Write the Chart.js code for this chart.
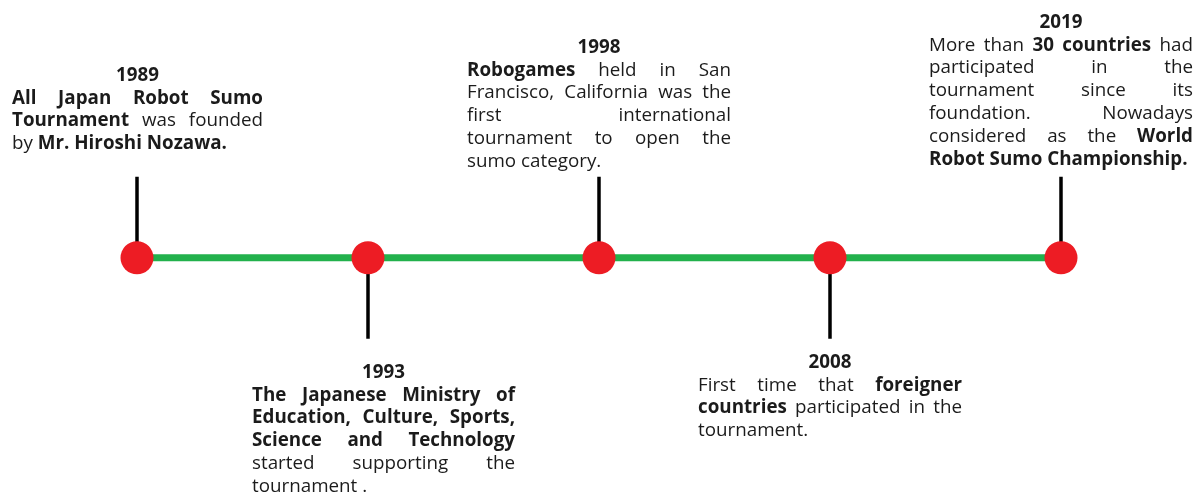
<!DOCTYPE html>
<html>
<head>
<meta charset="utf-8">
<script src="https://cdn.jsdelivr.net/npm/chart.js@4.4.1/dist/chart.umd.min.js"></script>
<style>
  html, body { margin: 0; padding: 0; background: #fff; }
  #wrap { width: 1201px; height: 493px; position: relative; }
</style>
</head>
<body>
<div id="wrap"><canvas id="timeline"></canvas></div>
<script>
// timeline data
const years = ['1989', '1993', '1998', '2008', '2019'];
const positions = [0, 1, 2, 3, 4];

// description lines, **...** marks bold words
const descriptions = [
    [
        '**All Japan Robot Sumo**',
        '**Tournament** was founded',
        'by **Mr. Hiroshi Nozawa.**'
    ],
    [
        '**The Japanese Ministry of**',
        '**Education, Culture, Sports,**',
        '**Science and Technology**',
        'started supporting the',
        'tournament .'
    ],
    [
        '**Robogames** held in San',
        'Francisco, California was the',
        'first international',
        'tournament to open the',
        'sumo category.'
    ],
    [
        'First time that **foreigner**',
        '**countries** participated in the',
        'tournament.'
    ],
    [
        'More than **30 countries** had',
        'participated in the',
        'tournament since its',
        'foundation. Nowadays',
        'considered as the **World**',
        '**Robot Sumo Championship.**'
    ]
];

// layout (pixels relative to each dot)
const side = ['up', 'down', 'up', 'down', 'up'];
const yearOffset = [-182.5, 114.5, -210.5, 104.5, -235.5];
const blockShift = [0.5, 15.5, 0, 0, 0];
const blockWidth = [251, 263, 264, 264, 264];
const stemLength = 81;
const lineStep = 22.9;
const fontSize = 18.8;
const textColor = '#1b1b1b';

function parseWords(line) {
    const words = [];
    line.split(/(\*\*[^*]+\*\*)/).forEach(part => {
        if (!part) return;
        const bold = part.startsWith('**');
        const txt = bold ? part.slice(2, -2) : part;
        txt.split(' ').forEach(w => { if (w) words.push({ text: w, bold: bold }); });
    });
    return words;
}

function fontFor(bold) {
    return (bold ? 'bold ' : '') + fontSize + 'px "Open Sans"';
}

const timelinePlugin = {
    id: 'timelineDecor',
    beforeDatasetsDraw(chart) {
        const ctx = chart.ctx;
        const xs = chart.scales.x, ys = chart.scales.y;
        ctx.save();
        ctx.strokeStyle = '#000';
        ctx.lineWidth = 3.5;
        positions.forEach((p, i) => {
            const px = xs.getPixelForValue(p);
            const py = ys.getPixelForValue(0);
            const end = side[i] === 'up' ? py - stemLength : py + stemLength;
            ctx.beginPath();
            ctx.moveTo(px, py);
            ctx.lineTo(px, end);
            ctx.stroke();
        });
        ctx.restore();
    },
    afterDraw(chart) {
        const ctx = chart.ctx;
        const xs = chart.scales.x, ys = chart.scales.y;
        ctx.save();
        ctx.fillStyle = textColor;
        ctx.textBaseline = 'middle';
        positions.forEach((p, i) => {
            const cx = xs.getPixelForValue(p) + blockShift[i];
            const py = ys.getPixelForValue(0);
            const yearY = py + yearOffset[i];
            ctx.font = fontFor(true);
            ctx.textAlign = 'center';
            ctx.fillText(years[i], cx, yearY);

            ctx.textAlign = 'left';
            const left = cx - blockWidth[i] / 2;
            const lines = descriptions[i];
            lines.forEach((line, li) => {
                const words = parseWords(line);
                const y = yearY + lineStep * (li + 1);
                const widths = words.map(w => { ctx.font = fontFor(w.bold); return ctx.measureText(w.text).width; });
                const total = widths.reduce((a, b) => a + b, 0);
                const isLast = li === lines.length - 1;
                ctx.font = fontFor(false);
                let gap = ctx.measureText(' ').width;
                if (!isLast && words.length > 1) gap = (blockWidth[i] - total) / (words.length - 1);
                let x = left;
                words.forEach((w, wi) => {
                    ctx.font = fontFor(w.bold);
                    ctx.fillText(w.text, x, y);
                    x += widths[wi] + gap;
                });
            });
        });
        ctx.restore();
    }
};

new Chart(document.getElementById('timeline'), {
    type: 'line',
    data: {
        datasets: [{
            data: positions.map(p => ({ x: p, y: 0 })),
            borderColor: '#22b14c',
            borderWidth: 7,
            pointRadius: 16.5,
            pointHoverRadius: 16.5,
            pointBackgroundColor: '#ed1c24',
            pointBorderWidth: 0,
            clip: false
        }]
    },
    options: {
        responsive: true,
        maintainAspectRatio: false,
        animation: false,
        layout: { padding: { left: 137, right: 140, top: 39, bottom: 0 } },
        scales: {
            x: { type: 'linear', min: 0, max: 4, display: false },
            y: { min: -1, max: 1, display: false }
        },
        plugins: { legend: { display: false }, tooltip: { enabled: false } }
    },
    plugins: [timelinePlugin]
});
</script>
</body>
</html>
